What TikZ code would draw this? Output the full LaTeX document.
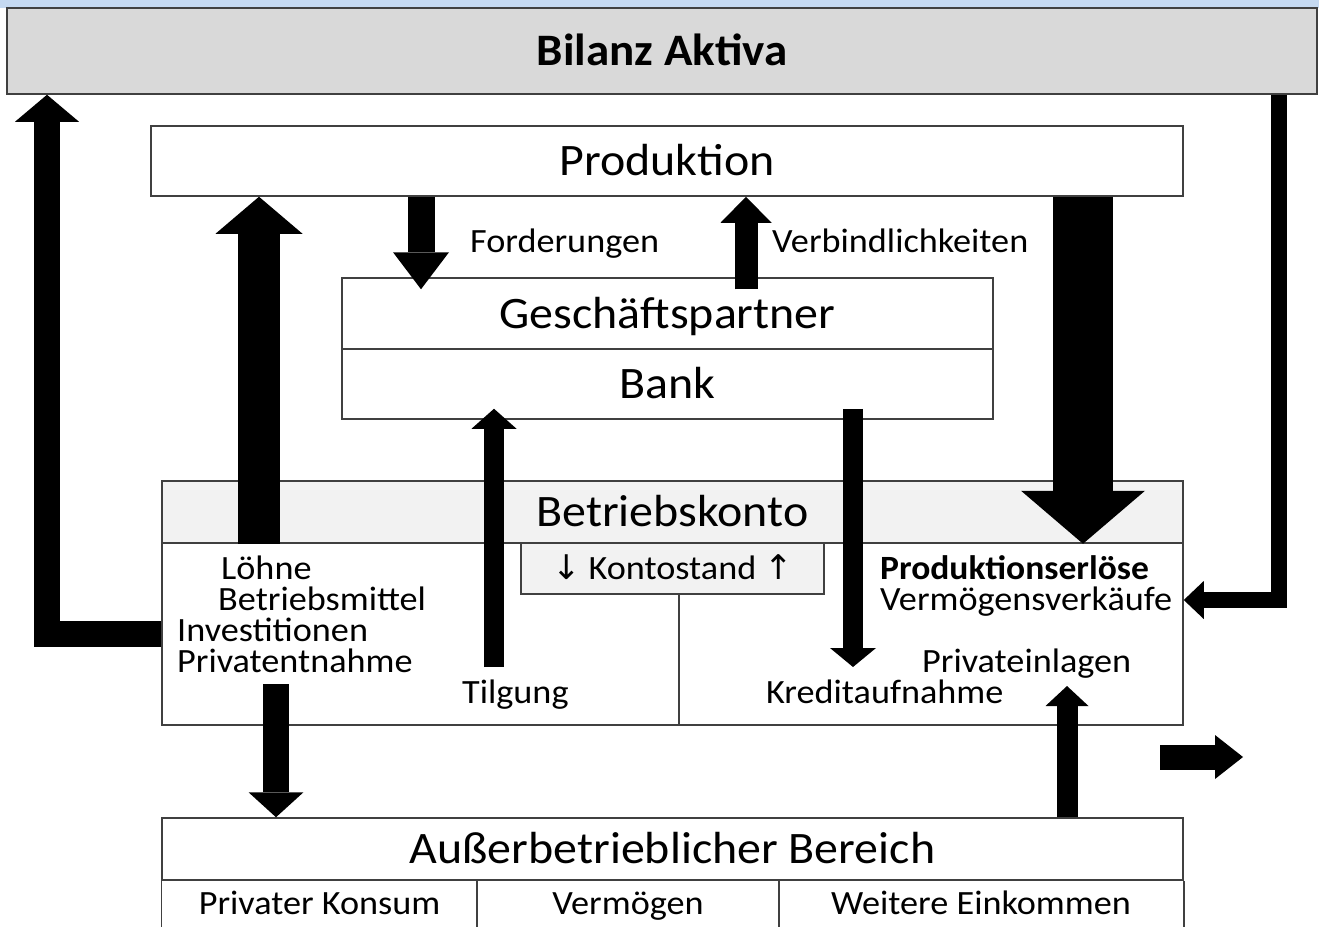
\documentclass[tikz,border=0pt]{standalone}
\usepackage{fontspec}
\setmainfont{Carlito}[FakeStretch=1.065, BoldFeatures={FakeStretch=1.045}]
\newfontfamily\pfeilfont{DejaVu Sans}
\usetikzlibrary{arrows.meta,calc}

\definecolor{bandblau}{RGB}{197,217,241}
\definecolor{bilanzgrau}{RGB}{217,217,217}
\definecolor{kontograu}{RGB}{242,242,242}
\definecolor{rahmen}{RGB}{64,64,64}

\newcommand{\grossschrift}{\fontsize{45}{50}\selectfont}
\newcommand{\kleinschrift}{\fontsize{34}{38}\selectfont}

\tikzset{
  kasten/.style={draw=rahmen, line width=1.5pt, inner sep=0pt, text height=29pt, text depth=0pt, font=\grossschrift},
  feld/.style={draw=rahmen, line width=1.5pt, inner sep=0pt, text height=22pt, text depth=0pt, font=\kleinschrift},
  beschriftung/.style={anchor=base west, inner sep=0pt, font=\kleinschrift},
  pfeil/.style n args={3}{draw=black, line width=#1, -{Triangle[length=#2 0, width=#3 0, line width=0pt 0 0]}}
}

\begin{document}
\begin{tikzpicture}[x=1pt, y=-1pt]
\useasboundingbox (0,0) rectangle (1319,926);
\clip (0,0) rectangle (1319,926);
\fill [bandblau] (0,0) rectangle (1319,8);

% Kaesten
\node (bilanz) [kasten, fill=bilanzgrau, minimum width=1310pt, minimum height=86pt, font=\grossschrift\bfseries] at (662,51) {Bilanz Aktiva};
\node (prod) [kasten, minimum width=1032pt, minimum height=70pt] at (667,161) {Produktion};
\node (gp) [kasten, minimum width=651pt, minimum height=71pt] at (667.5,313.5) {Geschäftspartner};
\node (bank) [kasten, minimum width=651pt, minimum height=70pt] at (667.5,384) {Bank};
\node (bk) [kasten, fill=kontograu, minimum width=1021pt, minimum height=62pt] at (672.5,512) {Betriebskonto};
\node (konto) [kasten, minimum width=1021pt, minimum height=182pt] at (672.5,634) {};
\node (stand) [feld, fill=kontograu, minimum width=303pt, minimum height=51pt] at (672.5,568.5) {{\pfeilfont ↓} Kontostand {\pfeilfont ↑}};
\node (aub) [kasten, minimum width=1021pt, minimum height=62pt] at (672.5,849) {Außerbetrieblicher Bereich};

\draw [draw=rahmen, line width=1.5pt] (679,0 |- stand.south) -- (679,0 |- konto.south);

% untere Zeile
\node (konsum) [feld, draw=none] at (319.5,903) {Privater Konsum};
\node (vermoegen) [feld, draw=none] at (628,903) {Vermögen};
\node (einkommen) [feld, draw=none] at (981,903) {Weitere Einkommen};
\draw [draw=rahmen, line width=1.5pt] (aub.south west) -- ++(0,60);
\draw [draw=rahmen, line width=1.5pt] (477,0 |- aub.south) -- ++(0,60);
\draw [draw=rahmen, line width=1.5pt] (779,0 |- aub.south) -- ++(0,60);
\draw [draw=rahmen, line width=1.5pt] (aub.south east) -- ++(0,60);

% Beschriftungen
\node (ford) [beschriftung] at (470,252) {Forderungen};
\node (verb) [beschriftung] at (772,252) {Verbindlichkeiten};
\node (loehne) [beschriftung] at (221,579) {Löhne};
\node (mittel) [beschriftung] at (218,610) {Betriebsmittel};
\node (invest) [beschriftung] at (177,641) {Investitionen};
\node (entnahme) [beschriftung] at (177,672) {Privatentnahme};
\node (tilgung) [beschriftung] at (462,703) {Tilgung};
\node (erloese) [beschriftung, font=\kleinschrift\bfseries] at (880,579) {Produktionserlöse};
\node (verkauf) [beschriftung] at (880,610) {Vermögensverkäufe};
\node (einlagen) [beschriftung] at (922,672) {Privateinlagen};
\node (kredit) [beschriftung] at (766,703) {Kreditaufnahme};

\coordinate (tilgfuss) at (494,667);
\coordinate (kreditfuss) at (853,667);
\coordinate (entnahmefuss) at (276,684);
\coordinate (einlagenkopf) at (1067,686);
\coordinate (pfeilstart) at (1160,757);
\coordinate (pfeilziel) at (1243,757);

% Pfeile
\draw [pfeil={42pt}{37pt}{87pt}] (259,0 |- bk.south) -- (259,0 |- prod.south);
\draw [pfeil={60pt}{53pt}{124pt}] (1083,0 |- prod.south) -- (1083,0 |- bk.south);
\draw [pfeil={27pt}{37pt}{56pt}] (421,0 |- prod.south) -- ($(421,0 |- gp.north)+(0,12)$);
\draw [pfeil={23pt}{26pt}{51pt}] ($(746,0 |- gp.north)+(0,12)$) -- (746,0 |- prod.south);
\draw [pfeil={20pt}{20pt}{45pt}] (tilgfuss) -- ($(494,0 |- bank.south)+(0,-11)$);
\draw [pfeil={20pt}{19pt}{46pt}] ($(853,0 |- bank.south)+(0,-11)$) -- (kreditfuss);
\draw [pfeil={26pt}{25pt}{55pt}] (entnahmefuss) -- (276,0 |- aub.north);
\draw [pfeil={21pt}{20pt}{43pt}] (1067,0 |- aub.north) -- (einlagenkopf);
\draw [pfeil={26pt}{27pt}{64pt}] (konto.west) -- (47,0 |- konto.west) -- (47,0 |- bilanz.south);
\draw [pfeil={16pt}{20pt}{38pt}] (1279,0 |- bilanz.south) -- (1279,600) -- (konto.east |- 0,600);
\draw [pfeil={25pt}{28pt}{44pt}] (pfeilstart) -- (pfeilziel);
\end{tikzpicture}
\end{document}
